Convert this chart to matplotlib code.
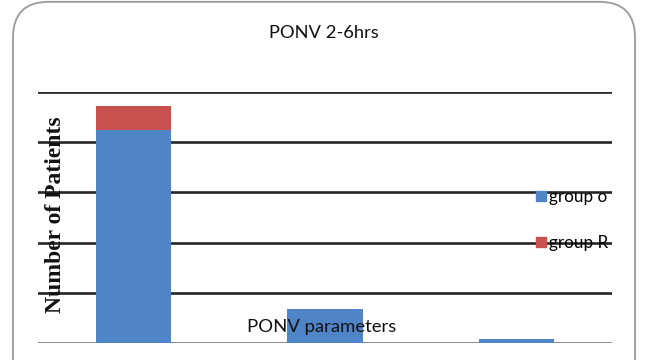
import matplotlib
matplotlib.use("Agg")
import matplotlib.pyplot as plt
from matplotlib.patches import FancyBboxPatch, Patch

# PONV counts at 2-6 hrs
categories = ["Nausea", "Vomiting", "Rescue"]
group_o = [21.2, 3.4, 0.4]
group_r = [2.4, 0.0, 0.0]
y_ticks = [0, 5, 10, 15, 20, 25]

blue = "#4F85C6"
red = "#C8504E"

fig = plt.figure(figsize=(6.49, 3.6), dpi=100)
fig.patch.set_facecolor("white")

# rounded chart frame (bottom runs off the canvas)
frame = FancyBboxPatch((13 / 649, -0.2), 622 / 649, 1.195,
                       boxstyle="round,pad=0,rounding_size=0.055",
                       transform=fig.transFigure, facecolor="none",
                       edgecolor="#9a9a9a", linewidth=1.3, zorder=-1,
                       mutation_aspect=649 / 360)
fig.patches.append(frame)

ax = fig.add_axes([38 / 649, 17 / 360, 574 / 649, 251 / 360])
ax.set_facecolor("none")
x = range(len(categories))
ax.bar(x, group_o, width=0.394, color=blue, zorder=3, label="group o")
ax.bar(x, group_r, bottom=group_o, width=0.394, color=red, zorder=3, label="group R")

ax.set_xlim(-0.5, 2.5)
ax.set_ylim(0, 25)
for t in y_ticks[1:]:
    ax.axhline(t, color="#262626", linewidth=1.9, zorder=1)
ax.axhline(0, color="#8a8a8a", linewidth=1.4, zorder=1)
for s in ax.spines.values():
    s.set_visible(False)
ax.set_xticks([])
ax.set_yticks([])

fig.text(324 / 649, 1 - 33.5 / 360, "PONV 2-6hrs", ha="center", va="center",
         family="Lato", fontsize=13.2, color="#111111")
fig.text(56 / 649, 1 - 215 / 360, "Number of Patients", rotation=90,
         ha="center", va="center", family="Liberation Serif",
         fontweight="bold", fontsize=17, color="#111111", zorder=5)
fig.text(247 / 649, 1 - 327 / 360, "PONV parameters", ha="left", va="center",
         family="Lato", fontsize=13.3, color="#111111", zorder=5)

handles = [Patch(color=blue), Patch(color=red)]
ax.legend(handles, ["group o", "group R"], loc="center left",
          bbox_to_anchor=(522 / 649, 1 - 220 / 360), bbox_transform=fig.transFigure,
          frameon=False, handlelength=0.6, handleheight=0.6, handletextpad=0.2,
          labelspacing=1.75, borderpad=0.3, prop={"family": "Lato", "size": 12.3})

fig.savefig("out.png", dpi=100)
